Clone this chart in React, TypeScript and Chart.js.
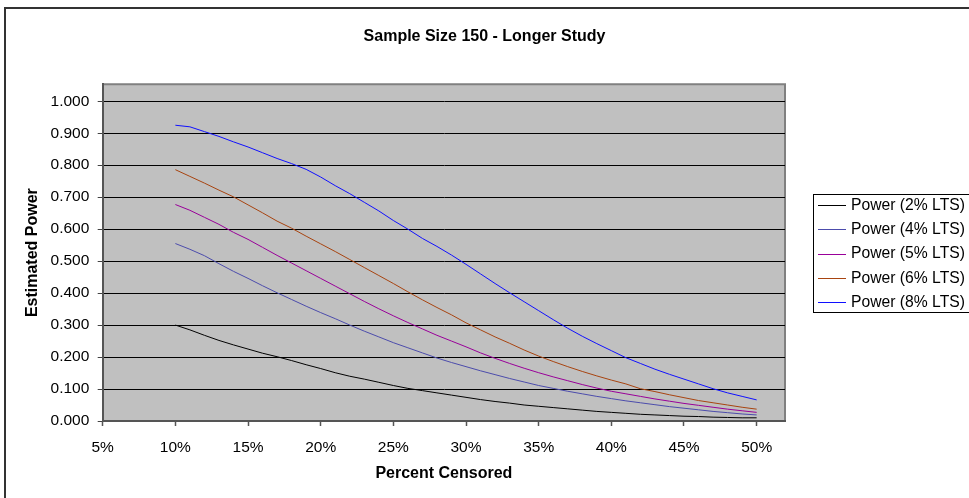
import React, { useEffect, useRef } from "react";
import { Chart, registerables } from "chart.js";

Chart.register(...registerables);

// ---------- data ----------
const chartTitle = "Sample Size 150 - Longer Study";
const xTitle = "Percent Censored";
const yTitle = "Estimated Power";

const censored = [
  10, 11, 12, 13, 14, 15, 16, 17, 18, 19, 20, 21, 22, 23, 24, 25, 26, 27, 28, 29,
  30, 31, 32, 33, 34, 35, 36, 37, 38, 39, 40, 41, 42, 43, 44, 45, 46, 47, 48, 49, 50,
];

const power2 = [
  0.300, 0.285, 0.268, 0.252, 0.238, 0.225, 0.212, 0.201, 0.189, 0.176, 0.164, 0.151,
  0.140, 0.131, 0.121, 0.111, 0.102, 0.095, 0.088, 0.081, 0.074, 0.067, 0.061, 0.056,
  0.050, 0.046, 0.042, 0.038, 0.034, 0.030, 0.027, 0.024, 0.021, 0.019, 0.017, 0.015,
  0.014, 0.012, 0.011, 0.010, 0.010,
];
const power4 = [
  0.555, 0.537, 0.517, 0.492, 0.468, 0.446, 0.423, 0.401, 0.380, 0.359, 0.339, 0.320,
  0.300, 0.281, 0.263, 0.245, 0.229, 0.213, 0.197, 0.183, 0.170, 0.157, 0.145, 0.133,
  0.122, 0.111, 0.102, 0.093, 0.085, 0.077, 0.070, 0.063, 0.057, 0.051, 0.045, 0.040,
  0.035, 0.030, 0.026, 0.022, 0.019,
];
const power5 = [
  0.677, 0.659, 0.637, 0.615, 0.590, 0.568, 0.543, 0.518, 0.494, 0.470, 0.446, 0.422,
  0.398, 0.374, 0.351, 0.329, 0.308, 0.288, 0.268, 0.250, 0.232, 0.213, 0.196, 0.180,
  0.165, 0.151, 0.138, 0.126, 0.114, 0.103, 0.093, 0.085, 0.077, 0.069, 0.062, 0.055,
  0.049, 0.043, 0.037, 0.032, 0.027,
];
const power6 = [
  0.786, 0.765, 0.744, 0.722, 0.701, 0.676, 0.651, 0.625, 0.603, 0.578, 0.554, 0.530,
  0.505, 0.480, 0.455, 0.430, 0.404, 0.379, 0.355, 0.332, 0.307, 0.285, 0.263, 0.243,
  0.222, 0.203, 0.186, 0.170, 0.155, 0.141, 0.128, 0.116, 0.101, 0.092, 0.082, 0.073,
  0.064, 0.057, 0.050, 0.043, 0.037,
];
const power8 = [
  0.925, 0.920, 0.905, 0.890, 0.873, 0.857, 0.839, 0.821, 0.805, 0.787, 0.763, 0.736,
  0.711, 0.684, 0.657, 0.627, 0.600, 0.571, 0.546, 0.519, 0.490, 0.460, 0.430, 0.401,
  0.373, 0.345, 0.317, 0.290, 0.265, 0.242, 0.220, 0.198, 0.180, 0.162, 0.146, 0.131,
  0.116, 0.101, 0.088, 0.077, 0.066,
];

const seriesLabels = [
  "Power (2% LTS)",
  "Power (4% LTS)",
  "Power (5% LTS)",
  "Power (6% LTS)",
  "Power (8% LTS)",
];
const seriesValues = [power2, power4, power5, power6, power8];
const seriesColors = ["#000000", "#4C4CAC", "#990099", "#A84410", "#1010FF"];

const xTicks = [5, 10, 15, 20, 25, 30, 35, 40, 45, 50];
const yTicks = [0, 0.1, 0.2, 0.3, 0.4, 0.5, 0.6, 0.7, 0.8, 0.9, 1.0];

// ---------- styling ----------
const FONT = '"Liberation Sans", Arial, sans-serif';
const W = 969;
const H = 498;

const plotBgPlugin = {
  id: "plotBg",
  beforeDraw(chart: any) {
    const { ctx, chartArea } = chart;
    const { left, top, right, bottom } = chartArea;
    ctx.save();
    ctx.fillStyle = "#C0C0C0";
    ctx.fillRect(left, top, right - left, bottom - top);
    ctx.strokeStyle = "#808080";
    ctx.lineWidth = 2;
    ctx.beginPath();
    ctx.moveTo(left, top);
    ctx.lineTo(right, top);
    ctx.lineTo(right, bottom);
    ctx.stroke();
    ctx.restore();
  },
};

const titleLegendPlugin = {
  id: "titleLegend",
  afterDraw(chart: any) {
    const { ctx } = chart;
    ctx.save();
    // chart title
    ctx.fillStyle = "#000";
    ctx.font = `bold 16px ${FONT}`;
    ctx.textAlign = "center";
    ctx.textBaseline = "middle";
    ctx.fillText(chartTitle, 484.5, 37);

    // legend box
    const n = chart.data.datasets.length;
    const rowH = 24.4;
    const centerY = 253.5;
    const firstY = centerY - ((n - 1) / 2) * rowH;
    const lastY = centerY + ((n - 1) / 2) * rowH;
    const boxTop = Math.round(firstY - 11) + 0.5;
    const boxBottom = Math.round(lastY + 10) + 0.5;
    const boxLeft = 813.5;
    ctx.fillStyle = "#fff";
    ctx.fillRect(boxLeft, boxTop, 200, boxBottom - boxTop);
    ctx.strokeStyle = "#000";
    ctx.lineWidth = 1;
    ctx.strokeRect(boxLeft, boxTop, 200, boxBottom - boxTop);

    ctx.font = `15.7px ${FONT}`;
    ctx.textAlign = "left";
    ctx.textBaseline = "middle";
    chart.data.datasets.forEach((ds: any, i: number) => {
      const y = firstY + i * rowH;
      ctx.strokeStyle = ds.borderColor;
      ctx.lineWidth = 1;
      ctx.beginPath();
      ctx.moveTo(818, Math.round(y) + 0.5);
      ctx.lineTo(846, Math.round(y) + 0.5);
      ctx.stroke();
      ctx.fillStyle = "#000";
      ctx.fillText(ds.label, 851, y + 0.5);
    });
    ctx.restore();
  },
};

export default function App() {
  const canvasRef = useRef<HTMLCanvasElement | null>(null);

  useEffect(() => {
    const canvas = canvasRef.current;
    if (!canvas) return;

    const datasets = seriesLabels.map((label, i) => ({
      label,
      data: censored.map((x, j) => ({ x, y: seriesValues[i][j] })),
      borderColor: seriesColors[i],
      backgroundColor: seriesColors[i],
      borderWidth: 1,
      pointRadius: 0,
      pointHoverRadius: 0,
      tension: 0,
      fill: false,
    }));

    const chart = new Chart(canvas, {
      type: "line",
      data: { datasets },
      options: {
        animation: false,
        responsive: false,
        devicePixelRatio: 1,
        events: [],
        layout: { padding: { left: 0, top: 84.3, right: W - 785, bottom: 0 } },
        plugins: {
          legend: { display: false },
          title: { display: false },
          tooltip: { enabled: false },
        },
        scales: {
          x: {
            type: "linear",
            min: 5,
            max: 51.95,
            afterBuildTicks: (scale: any) => {
              scale.ticks = xTicks.map((v) => ({ value: v }));
            },
            afterFit: (scale: any) => {
              scale.height = H - 421;
            },
            ticks: {
              includeBounds: false,
              autoSkip: false,
              maxRotation: 0,
              padding: 12,
              color: "#000",
              font: { family: FONT, size: 15.5 },
              callback: (v: any) => `${v}%`,
            },
            grid: {
              display: true,
              drawOnChartArea: false,
              drawTicks: true,
              tickLength: 5,
              tickColor: "#555",
              tickWidth: 1.5,
            },
            border: { display: true, color: "#555", width: 2 },
            title: {
              display: true,
              text: xTitle,
              color: "#000",
              font: { family: FONT, size: 16, weight: "bold" },
              padding: { top: 0, bottom: 14.5 },
            },
          },
          y: {
            type: "linear",
            min: 0,
            max: 1.053,
            afterBuildTicks: (scale: any) => {
              scale.ticks = yTicks.map((v) => ({ value: v }));
            },
            afterFit: (scale: any) => {
              scale.width = 102.7;
            },
            ticks: {
              includeBounds: false,
              autoSkip: false,
              padding: 8.4,
              color: "#000",
              font: { family: FONT, size: 15.5 },
              callback: (v: any) => Number(v).toFixed(3),
            },
            grid: {
              display: true,
              drawOnChartArea: true,
              drawTicks: true,
              tickLength: 5,
              color: "#000",
              lineWidth: 1,
              tickColor: "#444",
            },
            border: { display: true, color: "#555", width: 2 },
            title: {
              display: true,
              text: yTitle,
              color: "#000",
              font: { family: FONT, size: 16, weight: "bold" },
              padding: { top: 23.4, bottom: 0 },
            },
          },
        },
      },
      plugins: [plotBgPlugin, titleLegendPlugin],
    } as any);

    return () => chart.destroy();
  }, []);

  return (
    <div
      style={{
        position: "fixed",
        left: 0,
        top: 0,
        width: W,
        height: H,
        overflow: "hidden",
        background: "#fff",
      }}
    >
      <canvas
        ref={canvasRef}
        width={W}
        height={H}
        style={{ position: "absolute", left: 0, top: 0, width: W, height: H }}
      />
      <div
        style={{
          position: "absolute",
          left: 4,
          top: 7,
          width: 2000,
          height: 2000,
          border: "2px solid #333",
          pointerEvents: "none",
        }}
      />
    </div>
  );
}
